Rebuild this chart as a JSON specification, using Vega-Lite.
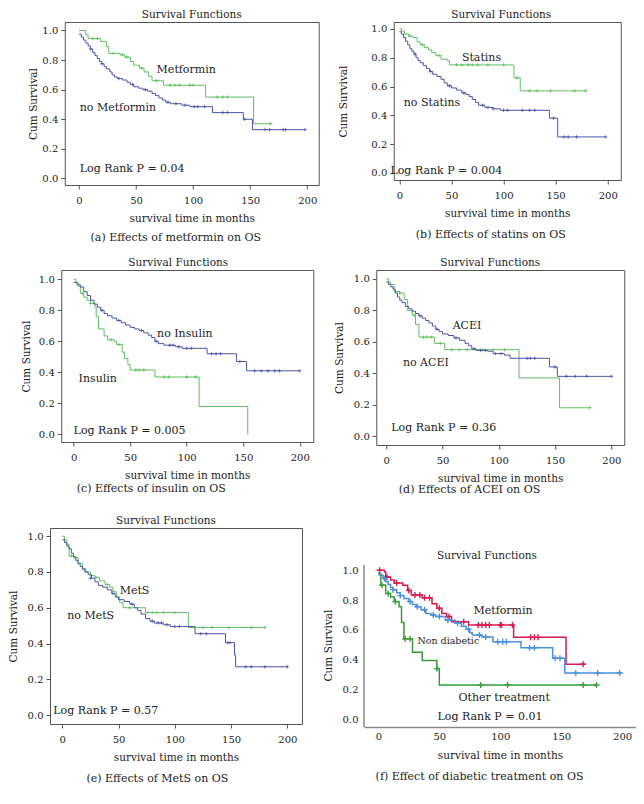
{
"$schema": "https://vega.github.io/schema/vega-lite/v6.json",
"padding": {"top": 9, "left": 8, "right": 0, "bottom": 0},
"background": "white",
"config": {
  "font": "DejaVu Serif",
  "view": {"stroke": "#555", "strokeWidth": 1},
  "axis": {"grid": false, "domain": false, "tickColor": "#555", "tickSize": 4, "labelFont": "DejaVu Serif", "labelFontSize": 10, "labelColor": "#222", "labelOverlap": false, "titleFont": "DejaVu Serif", "titleFontSize": 10.5, "titleFontWeight": "normal", "titleColor": "#222"},
  "axisX": {"labelPadding": 6, "titlePadding": 8, "tickCount": 10},
  "axisY": {"labelPadding": 3, "labelOverlap": false, "tickCount": 10},
  "title": {"font": "DejaVu Serif", "fontSize": 10.5, "fontWeight": "normal", "color": "#222", "offset": 2}
},
"datasets": {
"curves": [
{"panel":"a","group":"Metformin","t":0,"s":1.0},{"panel":"a","group":"Metformin","t":6,"s":0.97},{"panel":"a","group":"Metformin","t":8,"s":0.945},{"panel":"a","group":"Metformin","t":19,"s":0.925},{"panel":"a","group":"Metformin","t":24,"s":0.89},{"panel":"a","group":"Metformin","t":26,"s":0.845},{"panel":"a","group":"Metformin","t":36,"s":0.835},{"panel":"a","group":"Metformin","t":40,"s":0.82},{"panel":"a","group":"Metformin","t":45,"s":0.79},{"panel":"a","group":"Metformin","t":48,"s":0.765},{"panel":"a","group":"Metformin","t":53,"s":0.745},{"panel":"a","group":"Metformin","t":57,"s":0.72},{"panel":"a","group":"Metformin","t":61,"s":0.69},{"panel":"a","group":"Metformin","t":64,"s":0.66},{"panel":"a","group":"Metformin","t":74,"s":0.63},{"panel":"a","group":"Metformin","t":111,"s":0.55},{"panel":"a","group":"Metformin","t":153,"s":0.37},{"panel":"a","group":"Metformin","t":168,"s":0.37},
{"panel":"a","group":"no Metformin","t":0,"s":0.975},{"panel":"a","group":"no Metformin","t":2,"s":0.955},{"panel":"a","group":"no Metformin","t":4,"s":0.935},{"panel":"a","group":"no Metformin","t":6,"s":0.915},{"panel":"a","group":"no Metformin","t":8,"s":0.895},{"panel":"a","group":"no Metformin","t":10,"s":0.875},{"panel":"a","group":"no Metformin","t":12,"s":0.85},{"panel":"a","group":"no Metformin","t":14,"s":0.83},{"panel":"a","group":"no Metformin","t":16,"s":0.81},{"panel":"a","group":"no Metformin","t":18,"s":0.79},{"panel":"a","group":"no Metformin","t":20,"s":0.775},{"panel":"a","group":"no Metformin","t":22,"s":0.755},{"panel":"a","group":"no Metformin","t":24,"s":0.74},{"panel":"a","group":"no Metformin","t":27,"s":0.72},{"panel":"a","group":"no Metformin","t":29,"s":0.7},{"panel":"a","group":"no Metformin","t":31,"s":0.685},{"panel":"a","group":"no Metformin","t":34,"s":0.675},{"panel":"a","group":"no Metformin","t":38,"s":0.665},{"panel":"a","group":"no Metformin","t":42,"s":0.65},{"panel":"a","group":"no Metformin","t":45,"s":0.635},{"panel":"a","group":"no Metformin","t":48,"s":0.62},{"panel":"a","group":"no Metformin","t":52,"s":0.61},{"panel":"a","group":"no Metformin","t":56,"s":0.6},{"panel":"a","group":"no Metformin","t":60,"s":0.59},{"panel":"a","group":"no Metformin","t":64,"s":0.575},{"panel":"a","group":"no Metformin","t":67,"s":0.56},{"panel":"a","group":"no Metformin","t":70,"s":0.545},{"panel":"a","group":"no Metformin","t":73,"s":0.53},{"panel":"a","group":"no Metformin","t":76,"s":0.515},{"panel":"a","group":"no Metformin","t":80,"s":0.505},{"panel":"a","group":"no Metformin","t":90,"s":0.495},{"panel":"a","group":"no Metformin","t":97,"s":0.485},{"panel":"a","group":"no Metformin","t":117,"s":0.445},{"panel":"a","group":"no Metformin","t":144,"s":0.4},{"panel":"a","group":"no Metformin","t":152,"s":0.33},{"panel":"a","group":"no Metformin","t":198,"s":0.33},
{"panel":"b","group":"Statins","t":0,"s":1.0},{"panel":"b","group":"Statins","t":2,"s":0.985},{"panel":"b","group":"Statins","t":5,"s":0.965},{"panel":"b","group":"Statins","t":9,"s":0.95},{"panel":"b","group":"Statins","t":13,"s":0.94},{"panel":"b","group":"Statins","t":17,"s":0.91},{"panel":"b","group":"Statins","t":20,"s":0.89},{"panel":"b","group":"Statins","t":24,"s":0.87},{"panel":"b","group":"Statins","t":28,"s":0.855},{"panel":"b","group":"Statins","t":31,"s":0.835},{"panel":"b","group":"Statins","t":35,"s":0.815},{"panel":"b","group":"Statins","t":40,"s":0.79},{"panel":"b","group":"Statins","t":46,"s":0.78},{"panel":"b","group":"Statins","t":48,"s":0.75},{"panel":"b","group":"Statins","t":110,"s":0.66},{"panel":"b","group":"Statins","t":116,"s":0.57},{"panel":"b","group":"Statins","t":179,"s":0.57},
{"panel":"b","group":"no Statins","t":0,"s":0.98},{"panel":"b","group":"no Statins","t":2,"s":0.965},{"panel":"b","group":"no Statins","t":4,"s":0.94},{"panel":"b","group":"no Statins","t":6,"s":0.915},{"panel":"b","group":"no Statins","t":8,"s":0.89},{"panel":"b","group":"no Statins","t":10,"s":0.865},{"panel":"b","group":"no Statins","t":12,"s":0.845},{"panel":"b","group":"no Statins","t":14,"s":0.825},{"panel":"b","group":"no Statins","t":16,"s":0.8},{"panel":"b","group":"no Statins","t":18,"s":0.78},{"panel":"b","group":"no Statins","t":20,"s":0.765},{"panel":"b","group":"no Statins","t":23,"s":0.745},{"panel":"b","group":"no Statins","t":26,"s":0.725},{"panel":"b","group":"no Statins","t":29,"s":0.705},{"panel":"b","group":"no Statins","t":32,"s":0.685},{"panel":"b","group":"no Statins","t":36,"s":0.67},{"panel":"b","group":"no Statins","t":40,"s":0.65},{"panel":"b","group":"no Statins","t":43,"s":0.625},{"panel":"b","group":"no Statins","t":46,"s":0.605},{"panel":"b","group":"no Statins","t":50,"s":0.59},{"panel":"b","group":"no Statins","t":55,"s":0.575},{"panel":"b","group":"no Statins","t":60,"s":0.555},{"panel":"b","group":"no Statins","t":64,"s":0.545},{"panel":"b","group":"no Statins","t":67,"s":0.53},{"panel":"b","group":"no Statins","t":70,"s":0.51},{"panel":"b","group":"no Statins","t":73,"s":0.49},{"panel":"b","group":"no Statins","t":76,"s":0.47},{"panel":"b","group":"no Statins","t":82,"s":0.455},{"panel":"b","group":"no Statins","t":90,"s":0.445},{"panel":"b","group":"no Statins","t":97,"s":0.435},{"panel":"b","group":"no Statins","t":144,"s":0.38},{"panel":"b","group":"no Statins","t":152,"s":0.25},{"panel":"b","group":"no Statins","t":198,"s":0.25},
{"panel":"c","group":"Insulin","t":0,"s":1.0},{"panel":"c","group":"Insulin","t":2,"s":0.98},{"panel":"c","group":"Insulin","t":4,"s":0.955},{"panel":"c","group":"Insulin","t":6,"s":0.91},{"panel":"c","group":"Insulin","t":9,"s":0.885},{"panel":"c","group":"Insulin","t":12,"s":0.865},{"panel":"c","group":"Insulin","t":15,"s":0.845},{"panel":"c","group":"Insulin","t":19,"s":0.82},{"panel":"c","group":"Insulin","t":20,"s":0.76},{"panel":"c","group":"Insulin","t":22,"s":0.68},{"panel":"c","group":"Insulin","t":27,"s":0.635},{"panel":"c","group":"Insulin","t":30,"s":0.61},{"panel":"c","group":"Insulin","t":36,"s":0.6},{"panel":"c","group":"Insulin","t":38,"s":0.58},{"panel":"c","group":"Insulin","t":43,"s":0.53},{"panel":"c","group":"Insulin","t":45,"s":0.49},{"panel":"c","group":"Insulin","t":48,"s":0.45},{"panel":"c","group":"Insulin","t":50,"s":0.415},{"panel":"c","group":"Insulin","t":72,"s":0.37},{"panel":"c","group":"Insulin","t":111,"s":0.18},{"panel":"c","group":"Insulin","t":154,"s":0.0},
{"panel":"c","group":"no Insulin","t":0,"s":0.98},{"panel":"c","group":"no Insulin","t":3,"s":0.965},{"panel":"c","group":"no Insulin","t":6,"s":0.95},{"panel":"c","group":"no Insulin","t":9,"s":0.92},{"panel":"c","group":"no Insulin","t":12,"s":0.895},{"panel":"c","group":"no Insulin","t":15,"s":0.865},{"panel":"c","group":"no Insulin","t":18,"s":0.84},{"panel":"c","group":"no Insulin","t":21,"s":0.82},{"panel":"c","group":"no Insulin","t":24,"s":0.8},{"panel":"c","group":"no Insulin","t":27,"s":0.78},{"panel":"c","group":"no Insulin","t":30,"s":0.765},{"panel":"c","group":"no Insulin","t":34,"s":0.75},{"panel":"c","group":"no Insulin","t":38,"s":0.735},{"panel":"c","group":"no Insulin","t":42,"s":0.72},{"panel":"c","group":"no Insulin","t":46,"s":0.705},{"panel":"c","group":"no Insulin","t":50,"s":0.69},{"panel":"c","group":"no Insulin","t":54,"s":0.68},{"panel":"c","group":"no Insulin","t":58,"s":0.67},{"panel":"c","group":"no Insulin","t":62,"s":0.655},{"panel":"c","group":"no Insulin","t":66,"s":0.64},{"panel":"c","group":"no Insulin","t":69,"s":0.625},{"panel":"c","group":"no Insulin","t":72,"s":0.6},{"panel":"c","group":"no Insulin","t":75,"s":0.585},{"panel":"c","group":"no Insulin","t":80,"s":0.575},{"panel":"c","group":"no Insulin","t":90,"s":0.565},{"panel":"c","group":"no Insulin","t":96,"s":0.555},{"panel":"c","group":"no Insulin","t":118,"s":0.52},{"panel":"c","group":"no Insulin","t":144,"s":0.47},{"panel":"c","group":"no Insulin","t":153,"s":0.41},{"panel":"c","group":"no Insulin","t":200,"s":0.41},
{"panel":"d","group":"no ACEI","t":0,"s":1.0},{"panel":"d","group":"no ACEI","t":2,"s":0.98},{"panel":"d","group":"no ACEI","t":4,"s":0.965},{"panel":"d","group":"no ACEI","t":7,"s":0.92},{"panel":"d","group":"no ACEI","t":12,"s":0.91},{"panel":"d","group":"no ACEI","t":16,"s":0.87},{"panel":"d","group":"no ACEI","t":19,"s":0.8},{"panel":"d","group":"no ACEI","t":23,"s":0.77},{"panel":"d","group":"no ACEI","t":26,"s":0.71},{"panel":"d","group":"no ACEI","t":29,"s":0.63},{"panel":"d","group":"no ACEI","t":43,"s":0.59},{"panel":"d","group":"no ACEI","t":52,"s":0.55},{"panel":"d","group":"no ACEI","t":118,"s":0.37},{"panel":"d","group":"no ACEI","t":154,"s":0.18},{"panel":"d","group":"no ACEI","t":181,"s":0.18},
{"panel":"d","group":"ACEI","t":0,"s":0.98},{"panel":"d","group":"ACEI","t":2,"s":0.965},{"panel":"d","group":"ACEI","t":4,"s":0.95},{"panel":"d","group":"ACEI","t":6,"s":0.935},{"panel":"d","group":"ACEI","t":8,"s":0.91},{"panel":"d","group":"ACEI","t":10,"s":0.885},{"panel":"d","group":"ACEI","t":12,"s":0.865},{"panel":"d","group":"ACEI","t":14,"s":0.85},{"panel":"d","group":"ACEI","t":17,"s":0.825},{"panel":"d","group":"ACEI","t":20,"s":0.81},{"panel":"d","group":"ACEI","t":23,"s":0.795},{"panel":"d","group":"ACEI","t":26,"s":0.78},{"panel":"d","group":"ACEI","t":29,"s":0.765},{"panel":"d","group":"ACEI","t":32,"s":0.75},{"panel":"d","group":"ACEI","t":35,"s":0.735},{"panel":"d","group":"ACEI","t":38,"s":0.72},{"panel":"d","group":"ACEI","t":41,"s":0.7},{"panel":"d","group":"ACEI","t":44,"s":0.68},{"panel":"d","group":"ACEI","t":47,"s":0.665},{"panel":"d","group":"ACEI","t":50,"s":0.65},{"panel":"d","group":"ACEI","t":55,"s":0.64},{"panel":"d","group":"ACEI","t":60,"s":0.625},{"panel":"d","group":"ACEI","t":65,"s":0.61},{"panel":"d","group":"ACEI","t":70,"s":0.59},{"panel":"d","group":"ACEI","t":73,"s":0.575},{"panel":"d","group":"ACEI","t":76,"s":0.555},{"panel":"d","group":"ACEI","t":80,"s":0.545},{"panel":"d","group":"ACEI","t":90,"s":0.54},{"panel":"d","group":"ACEI","t":95,"s":0.525},{"panel":"d","group":"ACEI","t":105,"s":0.515},{"panel":"d","group":"ACEI","t":110,"s":0.495},{"panel":"d","group":"ACEI","t":145,"s":0.44},{"panel":"d","group":"ACEI","t":152,"s":0.38},{"panel":"d","group":"ACEI","t":200,"s":0.38},
{"panel":"e","group":"MetS","t":0,"s":1.0},{"panel":"e","group":"MetS","t":2,"s":0.98},{"panel":"e","group":"MetS","t":4,"s":0.955},{"panel":"e","group":"MetS","t":6,"s":0.89},{"panel":"e","group":"MetS","t":10,"s":0.88},{"panel":"e","group":"MetS","t":14,"s":0.85},{"panel":"e","group":"MetS","t":18,"s":0.82},{"panel":"e","group":"MetS","t":21,"s":0.8},{"panel":"e","group":"MetS","t":25,"s":0.78},{"panel":"e","group":"MetS","t":29,"s":0.77},{"panel":"e","group":"MetS","t":33,"s":0.75},{"panel":"e","group":"MetS","t":38,"s":0.73},{"panel":"e","group":"MetS","t":42,"s":0.715},{"panel":"e","group":"MetS","t":45,"s":0.69},{"panel":"e","group":"MetS","t":48,"s":0.66},{"panel":"e","group":"MetS","t":51,"s":0.63},{"panel":"e","group":"MetS","t":54,"s":0.6},{"panel":"e","group":"MetS","t":74,"s":0.573},{"panel":"e","group":"MetS","t":112,"s":0.49},{"panel":"e","group":"MetS","t":180,"s":0.49},
{"panel":"e","group":"no MetS","t":0,"s":0.98},{"panel":"e","group":"no MetS","t":2,"s":0.965},{"panel":"e","group":"no MetS","t":4,"s":0.945},{"panel":"e","group":"no MetS","t":6,"s":0.93},{"panel":"e","group":"no MetS","t":8,"s":0.905},{"panel":"e","group":"no MetS","t":10,"s":0.885},{"panel":"e","group":"no MetS","t":12,"s":0.865},{"panel":"e","group":"no MetS","t":14,"s":0.845},{"panel":"e","group":"no MetS","t":16,"s":0.83},{"panel":"e","group":"no MetS","t":18,"s":0.815},{"panel":"e","group":"no MetS","t":20,"s":0.8},{"panel":"e","group":"no MetS","t":23,"s":0.785},{"panel":"e","group":"no MetS","t":26,"s":0.765},{"panel":"e","group":"no MetS","t":29,"s":0.745},{"panel":"e","group":"no MetS","t":32,"s":0.725},{"panel":"e","group":"no MetS","t":36,"s":0.715},{"panel":"e","group":"no MetS","t":40,"s":0.7},{"panel":"e","group":"no MetS","t":44,"s":0.68},{"panel":"e","group":"no MetS","t":47,"s":0.66},{"panel":"e","group":"no MetS","t":50,"s":0.645},{"panel":"e","group":"no MetS","t":55,"s":0.635},{"panel":"e","group":"no MetS","t":60,"s":0.62},{"panel":"e","group":"no MetS","t":64,"s":0.6},{"panel":"e","group":"no MetS","t":67,"s":0.585},{"panel":"e","group":"no MetS","t":70,"s":0.565},{"panel":"e","group":"no MetS","t":74,"s":0.54},{"panel":"e","group":"no MetS","t":78,"s":0.525},{"panel":"e","group":"no MetS","t":82,"s":0.515},{"panel":"e","group":"no MetS","t":90,"s":0.505},{"panel":"e","group":"no MetS","t":96,"s":0.495},{"panel":"e","group":"no MetS","t":118,"s":0.455},{"panel":"e","group":"no MetS","t":145,"s":0.405},{"panel":"e","group":"no MetS","t":153,"s":0.335},{"panel":"e","group":"no MetS","t":154,"s":0.27},{"panel":"e","group":"no MetS","t":200,"s":0.27},
{"panel":"f","group":"Metformin","t":0,"s":1.0},{"panel":"f","group":"Metformin","t":5,"s":0.99},{"panel":"f","group":"Metformin","t":6,"s":0.955},{"panel":"f","group":"Metformin","t":10,"s":0.935},{"panel":"f","group":"Metformin","t":13,"s":0.915},{"panel":"f","group":"Metformin","t":20,"s":0.9},{"panel":"f","group":"Metformin","t":24,"s":0.865},{"panel":"f","group":"Metformin","t":27,"s":0.835},{"panel":"f","group":"Metformin","t":36,"s":0.815},{"panel":"f","group":"Metformin","t":44,"s":0.775},{"panel":"f","group":"Metformin","t":48,"s":0.745},{"panel":"f","group":"Metformin","t":52,"s":0.71},{"panel":"f","group":"Metformin","t":56,"s":0.69},{"panel":"f","group":"Metformin","t":60,"s":0.655},{"panel":"f","group":"Metformin","t":74,"s":0.632},{"panel":"f","group":"Metformin","t":111,"s":0.55},{"panel":"f","group":"Metformin","t":154,"s":0.37},{"panel":"f","group":"Metformin","t":170,"s":0.37},
{"panel":"f","group":"Non diabetic","t":0,"s":0.98},{"panel":"f","group":"Non diabetic","t":2,"s":0.965},{"panel":"f","group":"Non diabetic","t":4,"s":0.945},{"panel":"f","group":"Non diabetic","t":6,"s":0.925},{"panel":"f","group":"Non diabetic","t":8,"s":0.905},{"panel":"f","group":"Non diabetic","t":10,"s":0.885},{"panel":"f","group":"Non diabetic","t":12,"s":0.87},{"panel":"f","group":"Non diabetic","t":15,"s":0.85},{"panel":"f","group":"Non diabetic","t":18,"s":0.83},{"panel":"f","group":"Non diabetic","t":21,"s":0.81},{"panel":"f","group":"Non diabetic","t":25,"s":0.79},{"panel":"f","group":"Non diabetic","t":28,"s":0.77},{"panel":"f","group":"Non diabetic","t":31,"s":0.755},{"panel":"f","group":"Non diabetic","t":35,"s":0.735},{"panel":"f","group":"Non diabetic","t":39,"s":0.71},{"panel":"f","group":"Non diabetic","t":43,"s":0.7},{"panel":"f","group":"Non diabetic","t":47,"s":0.69},{"panel":"f","group":"Non diabetic","t":55,"s":0.665},{"panel":"f","group":"Non diabetic","t":63,"s":0.645},{"panel":"f","group":"Non diabetic","t":68,"s":0.625},{"panel":"f","group":"Non diabetic","t":72,"s":0.605},{"panel":"f","group":"Non diabetic","t":75,"s":0.58},{"panel":"f","group":"Non diabetic","t":77,"s":0.565},{"panel":"f","group":"Non diabetic","t":85,"s":0.553},{"panel":"f","group":"Non diabetic","t":94,"s":0.52},{"panel":"f","group":"Non diabetic","t":117,"s":0.48},{"panel":"f","group":"Non diabetic","t":143,"s":0.41},{"panel":"f","group":"Non diabetic","t":153,"s":0.31},{"panel":"f","group":"Non diabetic","t":200,"s":0.31},
{"panel":"f","group":"Other treatment","t":0,"s":0.97},{"panel":"f","group":"Other treatment","t":2,"s":0.9},{"panel":"f","group":"Other treatment","t":6,"s":0.845},{"panel":"f","group":"Other treatment","t":10,"s":0.82},{"panel":"f","group":"Other treatment","t":13,"s":0.79},{"panel":"f","group":"Other treatment","t":17,"s":0.755},{"panel":"f","group":"Other treatment","t":19,"s":0.65},{"panel":"f","group":"Other treatment","t":21,"s":0.54},{"panel":"f","group":"Other treatment","t":28,"s":0.45},{"panel":"f","group":"Other treatment","t":36,"s":0.395},{"panel":"f","group":"Other treatment","t":48,"s":0.34},{"panel":"f","group":"Other treatment","t":50,"s":0.23},{"panel":"f","group":"Other treatment","t":179,"s":0.23}
],
"censors": [
{"panel":"a","group":"Metformin","t":12,"s":0.945},{"panel":"a","group":"Metformin","t":16,"s":0.945},{"panel":"a","group":"Metformin","t":30,"s":0.845},{"panel":"a","group":"Metformin","t":38,"s":0.835},{"panel":"a","group":"Metformin","t":42,"s":0.82},{"panel":"a","group":"Metformin","t":55,"s":0.745},{"panel":"a","group":"Metformin","t":68,"s":0.66},{"panel":"a","group":"Metformin","t":80,"s":0.63},{"panel":"a","group":"Metformin","t":84,"s":0.63},{"panel":"a","group":"Metformin","t":88,"s":0.63},{"panel":"a","group":"Metformin","t":97,"s":0.63},{"panel":"a","group":"Metformin","t":100,"s":0.63},{"panel":"a","group":"Metformin","t":121,"s":0.55},{"panel":"a","group":"Metformin","t":126,"s":0.55},{"panel":"a","group":"Metformin","t":130,"s":0.55},{"panel":"a","group":"Metformin","t":168,"s":0.37},
{"panel":"a","group":"no Metformin","t":10,"s":0.875},{"panel":"a","group":"no Metformin","t":20,"s":0.775},{"panel":"a","group":"no Metformin","t":35,"s":0.675},{"panel":"a","group":"no Metformin","t":47,"s":0.635},{"panel":"a","group":"no Metformin","t":58,"s":0.6},{"panel":"a","group":"no Metformin","t":78,"s":0.515},{"panel":"a","group":"no Metformin","t":85,"s":0.505},{"panel":"a","group":"no Metformin","t":93,"s":0.495},{"panel":"a","group":"no Metformin","t":101,"s":0.485},{"panel":"a","group":"no Metformin","t":104,"s":0.485},{"panel":"a","group":"no Metformin","t":110,"s":0.485},{"panel":"a","group":"no Metformin","t":126,"s":0.445},{"panel":"a","group":"no Metformin","t":130,"s":0.445},{"panel":"a","group":"no Metformin","t":145,"s":0.4},{"panel":"a","group":"no Metformin","t":163,"s":0.33},{"panel":"a","group":"no Metformin","t":167,"s":0.33},{"panel":"a","group":"no Metformin","t":179,"s":0.33},{"panel":"a","group":"no Metformin","t":181,"s":0.33},{"panel":"a","group":"no Metformin","t":198,"s":0.33},
{"panel":"b","group":"Statins","t":10,"s":0.95},{"panel":"b","group":"Statins","t":22,"s":0.89},{"panel":"b","group":"Statins","t":38,"s":0.815},{"panel":"b","group":"Statins","t":55,"s":0.75},{"panel":"b","group":"Statins","t":60,"s":0.75},{"panel":"b","group":"Statins","t":66,"s":0.75},{"panel":"b","group":"Statins","t":70,"s":0.75},{"panel":"b","group":"Statins","t":75,"s":0.75},{"panel":"b","group":"Statins","t":85,"s":0.75},{"panel":"b","group":"Statins","t":100,"s":0.75},{"panel":"b","group":"Statins","t":113,"s":0.66},{"panel":"b","group":"Statins","t":125,"s":0.57},{"panel":"b","group":"Statins","t":132,"s":0.57},{"panel":"b","group":"Statins","t":145,"s":0.57},{"panel":"b","group":"Statins","t":168,"s":0.57},{"panel":"b","group":"Statins","t":179,"s":0.57},
{"panel":"b","group":"no Statins","t":15,"s":0.825},{"panel":"b","group":"no Statins","t":30,"s":0.705},{"panel":"b","group":"no Statins","t":48,"s":0.605},{"panel":"b","group":"no Statins","t":62,"s":0.555},{"panel":"b","group":"no Statins","t":80,"s":0.47},{"panel":"b","group":"no Statins","t":85,"s":0.455},{"panel":"b","group":"no Statins","t":90,"s":0.445},{"panel":"b","group":"no Statins","t":100,"s":0.435},{"panel":"b","group":"no Statins","t":104,"s":0.435},{"panel":"b","group":"no Statins","t":118,"s":0.435},{"panel":"b","group":"no Statins","t":125,"s":0.435},{"panel":"b","group":"no Statins","t":130,"s":0.435},{"panel":"b","group":"no Statins","t":148,"s":0.38},{"panel":"b","group":"no Statins","t":158,"s":0.25},{"panel":"b","group":"no Statins","t":162,"s":0.25},{"panel":"b","group":"no Statins","t":170,"s":0.25},{"panel":"b","group":"no Statins","t":198,"s":0.25},
{"panel":"c","group":"Insulin","t":8,"s":0.91},{"panel":"c","group":"Insulin","t":15,"s":0.845},{"panel":"c","group":"Insulin","t":33,"s":0.61},{"panel":"c","group":"Insulin","t":40,"s":0.58},{"panel":"c","group":"Insulin","t":55,"s":0.415},{"panel":"c","group":"Insulin","t":58,"s":0.415},{"panel":"c","group":"Insulin","t":62,"s":0.415},{"panel":"c","group":"Insulin","t":80,"s":0.37},{"panel":"c","group":"Insulin","t":84,"s":0.37},{"panel":"c","group":"Insulin","t":100,"s":0.37},{"panel":"c","group":"Insulin","t":108,"s":0.37},
{"panel":"c","group":"no Insulin","t":25,"s":0.8},{"panel":"c","group":"no Insulin","t":40,"s":0.735},{"panel":"c","group":"no Insulin","t":60,"s":0.67},{"panel":"c","group":"no Insulin","t":73,"s":0.6},{"panel":"c","group":"no Insulin","t":85,"s":0.575},{"panel":"c","group":"no Insulin","t":88,"s":0.575},{"panel":"c","group":"no Insulin","t":93,"s":0.565},{"panel":"c","group":"no Insulin","t":100,"s":0.555},{"panel":"c","group":"no Insulin","t":104,"s":0.555},{"panel":"c","group":"no Insulin","t":122,"s":0.52},{"panel":"c","group":"no Insulin","t":126,"s":0.52},{"panel":"c","group":"no Insulin","t":130,"s":0.52},{"panel":"c","group":"no Insulin","t":147,"s":0.47},{"panel":"c","group":"no Insulin","t":160,"s":0.41},{"panel":"c","group":"no Insulin","t":166,"s":0.41},{"panel":"c","group":"no Insulin","t":172,"s":0.41},{"panel":"c","group":"no Insulin","t":178,"s":0.41},{"panel":"c","group":"no Insulin","t":182,"s":0.41},{"panel":"c","group":"no Insulin","t":200,"s":0.41},
{"panel":"d","group":"no ACEI","t":12,"s":0.91},{"panel":"d","group":"no ACEI","t":25,"s":0.77},{"panel":"d","group":"no ACEI","t":33,"s":0.63},{"panel":"d","group":"no ACEI","t":36,"s":0.63},{"panel":"d","group":"no ACEI","t":40,"s":0.63},{"panel":"d","group":"no ACEI","t":48,"s":0.59},{"panel":"d","group":"no ACEI","t":58,"s":0.55},{"panel":"d","group":"no ACEI","t":65,"s":0.55},{"panel":"d","group":"no ACEI","t":72,"s":0.55},{"panel":"d","group":"no ACEI","t":85,"s":0.55},{"panel":"d","group":"no ACEI","t":95,"s":0.55},{"panel":"d","group":"no ACEI","t":105,"s":0.55},{"panel":"d","group":"no ACEI","t":181,"s":0.18},
{"panel":"d","group":"ACEI","t":30,"s":0.765},{"panel":"d","group":"ACEI","t":45,"s":0.68},{"panel":"d","group":"ACEI","t":62,"s":0.625},{"panel":"d","group":"ACEI","t":78,"s":0.555},{"panel":"d","group":"ACEI","t":84,"s":0.545},{"panel":"d","group":"ACEI","t":88,"s":0.545},{"panel":"d","group":"ACEI","t":97,"s":0.525},{"panel":"d","group":"ACEI","t":102,"s":0.525},{"panel":"d","group":"ACEI","t":125,"s":0.495},{"panel":"d","group":"ACEI","t":128,"s":0.495},{"panel":"d","group":"ACEI","t":132,"s":0.495},{"panel":"d","group":"ACEI","t":150,"s":0.44},{"panel":"d","group":"ACEI","t":160,"s":0.38},{"panel":"d","group":"ACEI","t":168,"s":0.38},{"panel":"d","group":"ACEI","t":178,"s":0.38},{"panel":"d","group":"ACEI","t":200,"s":0.38},
{"panel":"e","group":"MetS","t":8,"s":0.89},{"panel":"e","group":"MetS","t":30,"s":0.77},{"panel":"e","group":"MetS","t":40,"s":0.73},{"panel":"e","group":"MetS","t":60,"s":0.6},{"panel":"e","group":"MetS","t":76,"s":0.573},{"panel":"e","group":"MetS","t":80,"s":0.573},{"panel":"e","group":"MetS","t":84,"s":0.573},{"panel":"e","group":"MetS","t":90,"s":0.573},{"panel":"e","group":"MetS","t":100,"s":0.573},{"panel":"e","group":"MetS","t":118,"s":0.49},{"panel":"e","group":"MetS","t":125,"s":0.49},{"panel":"e","group":"MetS","t":133,"s":0.49},{"panel":"e","group":"MetS","t":148,"s":0.49},{"panel":"e","group":"MetS","t":168,"s":0.49},{"panel":"e","group":"MetS","t":180,"s":0.49},
{"panel":"e","group":"no MetS","t":25,"s":0.765},{"panel":"e","group":"no MetS","t":45,"s":0.68},{"panel":"e","group":"no MetS","t":62,"s":0.62},{"panel":"e","group":"no MetS","t":80,"s":0.525},{"panel":"e","group":"no MetS","t":85,"s":0.515},{"panel":"e","group":"no MetS","t":88,"s":0.515},{"panel":"e","group":"no MetS","t":93,"s":0.505},{"panel":"e","group":"no MetS","t":100,"s":0.495},{"panel":"e","group":"no MetS","t":104,"s":0.495},{"panel":"e","group":"no MetS","t":123,"s":0.455},{"panel":"e","group":"no MetS","t":128,"s":0.455},{"panel":"e","group":"no MetS","t":147,"s":0.405},{"panel":"e","group":"no MetS","t":149,"s":0.405},{"panel":"e","group":"no MetS","t":163,"s":0.27},{"panel":"e","group":"no MetS","t":168,"s":0.27},{"panel":"e","group":"no MetS","t":180,"s":0.27},{"panel":"e","group":"no MetS","t":200,"s":0.27},
{"panel":"f","group":"Metformin","t":1,"s":1.0},{"panel":"f","group":"Metformin","t":7,"s":0.955},{"panel":"f","group":"Metformin","t":15,"s":0.915},{"panel":"f","group":"Metformin","t":25,"s":0.865},{"panel":"f","group":"Metformin","t":30,"s":0.835},{"panel":"f","group":"Metformin","t":34,"s":0.835},{"panel":"f","group":"Metformin","t":38,"s":0.815},{"panel":"f","group":"Metformin","t":42,"s":0.815},{"panel":"f","group":"Metformin","t":50,"s":0.745},{"panel":"f","group":"Metformin","t":58,"s":0.69},{"panel":"f","group":"Metformin","t":70,"s":0.655},{"panel":"f","group":"Metformin","t":82,"s":0.632},{"panel":"f","group":"Metformin","t":85,"s":0.632},{"panel":"f","group":"Metformin","t":88,"s":0.632},{"panel":"f","group":"Metformin","t":91,"s":0.632},{"panel":"f","group":"Metformin","t":100,"s":0.632},{"panel":"f","group":"Metformin","t":101,"s":0.632},{"panel":"f","group":"Metformin","t":110,"s":0.632},{"panel":"f","group":"Metformin","t":125,"s":0.55},{"panel":"f","group":"Metformin","t":128,"s":0.55},{"panel":"f","group":"Metformin","t":131,"s":0.55},{"panel":"f","group":"Metformin","t":168,"s":0.37},
{"panel":"f","group":"Non diabetic","t":5,"s":0.945},{"panel":"f","group":"Non diabetic","t":12,"s":0.87},{"panel":"f","group":"Non diabetic","t":18,"s":0.83},{"panel":"f","group":"Non diabetic","t":26,"s":0.79},{"panel":"f","group":"Non diabetic","t":32,"s":0.755},{"panel":"f","group":"Non diabetic","t":38,"s":0.735},{"panel":"f","group":"Non diabetic","t":45,"s":0.7},{"panel":"f","group":"Non diabetic","t":50,"s":0.69},{"panel":"f","group":"Non diabetic","t":57,"s":0.665},{"panel":"f","group":"Non diabetic","t":65,"s":0.645},{"panel":"f","group":"Non diabetic","t":74,"s":0.605},{"panel":"f","group":"Non diabetic","t":83,"s":0.565},{"panel":"f","group":"Non diabetic","t":88,"s":0.553},{"panel":"f","group":"Non diabetic","t":98,"s":0.52},{"panel":"f","group":"Non diabetic","t":102,"s":0.52},{"panel":"f","group":"Non diabetic","t":105,"s":0.52},{"panel":"f","group":"Non diabetic","t":124,"s":0.48},{"panel":"f","group":"Non diabetic","t":128,"s":0.48},{"panel":"f","group":"Non diabetic","t":145,"s":0.41},{"panel":"f","group":"Non diabetic","t":149,"s":0.41},{"panel":"f","group":"Non diabetic","t":162,"s":0.31},{"panel":"f","group":"Non diabetic","t":180,"s":0.31},{"panel":"f","group":"Non diabetic","t":198,"s":0.31},
{"panel":"f","group":"Other treatment","t":3,"s":0.9},{"panel":"f","group":"Other treatment","t":8,"s":0.845},{"panel":"f","group":"Other treatment","t":14,"s":0.79},{"panel":"f","group":"Other treatment","t":22,"s":0.54},{"panel":"f","group":"Other treatment","t":26,"s":0.54},{"panel":"f","group":"Other treatment","t":48,"s":0.34},{"panel":"f","group":"Other treatment","t":84,"s":0.23},{"panel":"f","group":"Other treatment","t":106,"s":0.23},{"panel":"f","group":"Other treatment","t":168,"s":0.23},{"panel":"f","group":"Other treatment","t":179,"s":0.23}
],
"labels": [
{"panel":"a","text":"Metformin","t":68,"s":0.733},{"panel":"a","text":"no Metformin","t":0.6,"s":0.476},{"panel":"a","text":"Log Rank P = 0.04","t":0.6,"s":0.064},
{"panel":"b","text":"Statins","t":60,"s":0.8},{"panel":"b","text":"no Statins","t":4.2,"s":0.485},{"panel":"b","text":"Log Rank P = 0.004","t":-8.6,"s":0.014},
{"panel":"c","text":"no Insulin","t":73.8,"s":0.65},{"panel":"c","text":"Insulin","t":4.4,"s":0.36},{"panel":"c","text":"Log Rank P = 0.005","t":0,"s":0.022},
{"panel":"d","text":"ACEI","t":59,"s":0.7},{"panel":"d","text":"no ACEI","t":14.8,"s":0.463},{"panel":"d","text":"Log Rank P = 0.36","t":4.4,"s":0.05},
{"panel":"e","text":"MetS","t":51,"s":0.696},{"panel":"e","text":"no MetS","t":4.4,"s":0.552},{"panel":"e","text":"Log Rank P = 0.57","t":-8,"s":0.025},
{"panel":"f","text":"Metformin","t":78,"s":0.725},{"panel":"f","text":"Other treatment","t":65.7,"s":0.145},{"panel":"f","text":"Log Rank P = 0.01","t":48.5,"s":0.015}
],
"smalllabels": [
{"panel":"f","text":"Non diabetic","t":32,"s":0.525}
],
"faxis": [
{"t":-11.8,"s":-0.052,"s2":1.036}
]
},
"center": true,
"spacing": 14,
"resolve": {"scale": {"color": "independent", "x": "independent", "y": "independent"}},
"vconcat": [
{
"hconcat": [
{
"title": {"text": "(a)  Effects of metformin on OS", "orient": "bottom", "frame": "bounds", "anchor": "middle", "offset": 8, "dx": 2, "fontSize": 11},
"vconcat": [{
"width": 254, "height": 163,
"title": {"text": "Survival Functions", "frame": "group", "anchor": "middle"},
"layer": [
{"data": {"name": "curves"}, "transform": [{"filter": "datum.panel === 'a'"}],
 "mark": {"type": "line", "interpolate": "step-after", "strokeWidth": 1},
 "encoding": {
  "x": {"field": "t", "type": "quantitative", "scale": {"domain": [-12.5, 210.1], "nice": false, "zero": false}, "axis": {"values": [0, 50, 100, 150, 200], "title": "survival time in months"}},
  "y": {"field": "s", "type": "quantitative", "scale": {"domain": [-0.044, 1.057], "nice": false, "zero": false}, "axis": {"values": [0, 0.2, 0.4, 0.6, 0.8, 1], "tickCount": 10, "format": ".1f", "title": "Cum Survival", "titlePadding": 3, "labelOverlap": false}},
  "color": {"field": "group", "type": "nominal", "scale": {"domain": ["Metformin", "no Metformin"], "range": ["#5fbf5f", "#4b55a8"]}, "legend": null}}},
{"data": {"name": "censors"}, "transform": [{"filter": "datum.panel === 'a'"}],
 "mark": {"type": "point", "shape": "M0,-1L0,1M-1,0L1,0", "filled": false, "size": 12, "strokeWidth": 0.8, "opacity": 1},
 "encoding": {"x": {"field": "t", "type": "quantitative"}, "y": {"field": "s", "type": "quantitative"}, "color": {"field": "group", "type": "nominal", "legend": null}}},
{"data": {"name": "labels"}, "transform": [{"filter": "datum.panel === 'a'"}],
 "mark": {"type": "text", "align": "left", "baseline": "middle", "fontSize": 11, "color": "#222"},
 "encoding": {"x": {"field": "t", "type": "quantitative"}, "y": {"field": "s", "type": "quantitative"}, "text": {"field": "text"}}}
]}]
},
{
"title": {"text": "(b)  Effects of statins on OS", "orient": "bottom", "frame": "bounds", "anchor": "middle", "offset": 10, "dx": 11, "fontSize": 11},
"vconcat": [{
"width": 227, "height": 158,
"title": {"text": "Survival Functions", "frame": "group", "anchor": "middle", "dx": -6},
"layer": [
{"data": {"name": "curves"}, "transform": [{"filter": "datum.panel === 'b'"}],
 "mark": {"type": "line", "interpolate": "step-after", "strokeWidth": 1},
 "encoding": {
  "x": {"field": "t", "type": "quantitative", "scale": {"domain": [-5.4, 212.5], "nice": false, "zero": false}, "axis": {"values": [0, 50, 100, 150, 200], "title": "survival time in months"}},
  "y": {"field": "s", "type": "quantitative", "scale": {"domain": [-0.049, 1.048], "nice": false, "zero": false}, "axis": {"values": [0, 0.2, 0.4, 0.6, 0.8, 1], "tickCount": 10, "format": ".1f", "title": "Cum Survival", "titlePadding": 22, "labelOverlap": false}},
  "color": {"field": "group", "type": "nominal", "scale": {"domain": ["Statins", "no Statins"], "range": ["#5fbf5f", "#4b55a8"]}, "legend": null}}},
{"data": {"name": "censors"}, "transform": [{"filter": "datum.panel === 'b'"}],
 "mark": {"type": "point", "shape": "M0,-1L0,1M-1,0L1,0", "filled": false, "size": 12, "strokeWidth": 0.8, "opacity": 1},
 "encoding": {"x": {"field": "t", "type": "quantitative"}, "y": {"field": "s", "type": "quantitative"}, "color": {"field": "group", "type": "nominal", "legend": null}}},
{"data": {"name": "labels"}, "transform": [{"filter": "datum.panel === 'b'"}],
 "mark": {"type": "text", "align": "left", "baseline": "middle", "fontSize": 11, "color": "#222"},
 "encoding": {"x": {"field": "t", "type": "quantitative"}, "y": {"field": "s", "type": "quantitative"}, "text": {"field": "text"}}}
]}]
}
],
"spacing": 18,
"resolve": {"scale": {"color": "independent", "x": "independent", "y": "independent"}}
},
{
"hconcat": [
{
"title": {"text": "(c)  Effects of insulin on OS", "orient": "bottom", "frame": "bounds", "anchor": "middle", "offset": 2, "dx": -16, "fontSize": 11},
"vconcat": [{
"width": 252, "height": 172,
"title": {"text": "Survival Functions", "frame": "group", "anchor": "middle", "dx": -9},
"layer": [
{"data": {"name": "curves"}, "transform": [{"filter": "datum.panel === 'c'"}],
 "mark": {"type": "line", "interpolate": "step-after", "strokeWidth": 1},
 "encoding": {
  "x": {"field": "t", "type": "quantitative", "scale": {"domain": [-10.9, 211.9], "nice": false, "zero": false}, "axis": {"values": [0, 50, 100, 150, 200], "title": "survival time in months"}},
  "y": {"field": "s", "type": "quantitative", "scale": {"domain": [-0.049, 1.06], "nice": false, "zero": false}, "axis": {"values": [0, 0.2, 0.4, 0.6, 0.8, 1], "tickCount": 10, "format": ".1f", "title": "Cum Survival", "titlePadding": 7, "labelOverlap": false}},
  "color": {"field": "group", "type": "nominal", "scale": {"domain": ["Insulin", "no Insulin"], "range": ["#5fbf5f", "#4b55a8"]}, "legend": null}}},
{"data": {"name": "censors"}, "transform": [{"filter": "datum.panel === 'c'"}],
 "mark": {"type": "point", "shape": "M0,-1L0,1M-1,0L1,0", "filled": false, "size": 12, "strokeWidth": 0.8, "opacity": 1},
 "encoding": {"x": {"field": "t", "type": "quantitative"}, "y": {"field": "s", "type": "quantitative"}, "color": {"field": "group", "type": "nominal", "legend": null}}},
{"data": {"name": "labels"}, "transform": [{"filter": "datum.panel === 'c'"}],
 "mark": {"type": "text", "align": "left", "baseline": "middle", "fontSize": 11, "color": "#222"},
 "encoding": {"x": {"field": "t", "type": "quantitative"}, "y": {"field": "s", "type": "quantitative"}, "text": {"field": "text"}}}
]}]
},
{
"title": {"text": "(d)  Effects of ACEI on OS", "orient": "bottom", "frame": "bounds", "anchor": "middle", "offset": 0, "dx": -10, "fontSize": 11},
"vconcat": [{
"width": 248, "height": 175,
"title": {"text": "Survival Functions", "frame": "group", "anchor": "middle", "dx": -10},
"layer": [
{"data": {"name": "curves"}, "transform": [{"filter": "datum.panel === 'd'"}],
 "mark": {"type": "line", "interpolate": "step-after", "strokeWidth": 1},
 "encoding": {
  "x": {"field": "t", "type": "quantitative", "scale": {"domain": [-8.9, 211.5], "nice": false, "zero": false}, "axis": {"values": [0, 50, 100, 150, 200], "title": "survival time in months"}},
  "y": {"field": "s", "type": "quantitative", "scale": {"domain": [-0.057, 1.057], "nice": false, "zero": false}, "axis": {"values": [0, 0.2, 0.4, 0.6, 0.8, 1], "tickCount": 10, "format": ".1f", "title": "Cum Survival", "titlePadding": 8.6, "labelOverlap": false}},
  "color": {"field": "group", "type": "nominal", "scale": {"domain": ["no ACEI", "ACEI"], "range": ["#5fbf5f", "#4b55a8"]}, "legend": null}}},
{"data": {"name": "censors"}, "transform": [{"filter": "datum.panel === 'd'"}],
 "mark": {"type": "point", "shape": "M0,-1L0,1M-1,0L1,0", "filled": false, "size": 12, "strokeWidth": 0.8, "opacity": 1},
 "encoding": {"x": {"field": "t", "type": "quantitative"}, "y": {"field": "s", "type": "quantitative"}, "color": {"field": "group", "type": "nominal", "legend": null}}},
{"data": {"name": "labels"}, "transform": [{"filter": "datum.panel === 'd'"}],
 "mark": {"type": "text", "align": "left", "baseline": "middle", "fontSize": 11, "color": "#222"},
 "encoding": {"x": {"field": "t", "type": "quantitative"}, "y": {"field": "s", "type": "quantitative"}, "text": {"field": "text"}}}
]}]
}
],
"spacing": 19,
"resolve": {"scale": {"color": "independent", "x": "independent", "y": "independent"}}
},
{
"hconcat": [
{
"title": {"text": "(e)  Effects of MetS on OS", "orient": "bottom", "frame": "bounds", "anchor": "middle", "offset": 10, "dx": 2, "fontSize": 11},
"vconcat": [{
"width": 252, "height": 196,
"title": {"text": ["", "Survival Functions"], "lineHeight": 6, "frame": "group", "anchor": "middle", "dx": -10},
"layer": [
{"data": {"name": "curves"}, "transform": [{"filter": "datum.panel === 'e'"}],
 "mark": {"type": "line", "interpolate": "step-after", "strokeWidth": 1},
 "encoding": {
  "x": {"field": "t", "type": "quantitative", "scale": {"domain": [-10.9, 213], "nice": false, "zero": false}, "axis": {"values": [0, 50, 100, 150, 200], "title": "survival time in months"}},
  "y": {"field": "s", "type": "quantitative", "scale": {"domain": [-0.05, 1.046], "nice": false, "zero": false}, "axis": {"values": [0, 0.2, 0.4, 0.6, 0.8, 1], "tickCount": 10, "format": ".1f", "title": "Cum Survival", "titlePadding": 8.3, "labelOverlap": false}},
  "color": {"field": "group", "type": "nominal", "scale": {"domain": ["MetS", "no MetS"], "range": ["#5fbf5f", "#4b55a8"]}, "legend": null}}},
{"data": {"name": "censors"}, "transform": [{"filter": "datum.panel === 'e'"}],
 "mark": {"type": "point", "shape": "M0,-1L0,1M-1,0L1,0", "filled": false, "size": 12, "strokeWidth": 0.8, "opacity": 1},
 "encoding": {"x": {"field": "t", "type": "quantitative"}, "y": {"field": "s", "type": "quantitative"}, "color": {"field": "group", "type": "nominal", "legend": null}}},
{"data": {"name": "labels"}, "transform": [{"filter": "datum.panel === 'e'"}],
 "mark": {"type": "text", "align": "left", "baseline": "middle", "fontSize": 11, "color": "#222"},
 "encoding": {"x": {"field": "t", "type": "quantitative"}, "y": {"field": "s", "type": "quantitative"}, "text": {"field": "text"}}}
]}]
},
{
"title": {"text": "(f)  Effect of diabetic treatment on OS", "orient": "bottom", "frame": "bounds", "anchor": "middle", "offset": 10, "fontSize": 11},
"vconcat": [{
"width": 272, "height": 199,
"view": {"stroke": null},
"title": {"text": "Survival Functions", "frame": "group", "anchor": "middle", "offset": -33, "dx": -13},
"layer": [
{"data": {"name": "faxis"},
 "mark": {"type": "rule", "color": "#8a8a8a", "strokeWidth": 1.5},
 "encoding": {"x": {"field": "t", "type": "quantitative"}, "y": {"field": "s", "type": "quantitative"}, "y2": {"field": "s2"}}},
{"data": {"name": "curves"}, "transform": [{"filter": "datum.panel === 'f'"}],
 "mark": {"type": "line", "interpolate": "step-after", "strokeWidth": 1.5},
 "encoding": {
  "x": {"field": "t", "type": "quantitative", "scale": {"domain": [-11.8, 211.4], "nice": false, "zero": false}, "axis": {"values": [0, 50, 100, 150, 200], "title": "survival time in months", "domain": true, "domainColor": "#8a8a8a", "domainWidth": 1.5, "ticks": false, "labelPadding": 4, "titlePadding": 9}},
  "y": {"field": "s", "type": "quantitative", "scale": {"domain": [-0.052, 1.284], "nice": false, "zero": false}, "axis": {"values": [0, 0.2, 0.4, 0.6, 0.8, 1], "tickCount": 10, "format": ".1f", "title": "Cum Survival", "titlePadding": 9, "titleY": 117, "ticks": false, "labelPadding": 6, "labelOverlap": false}},
  "color": {"field": "group", "type": "nominal", "scale": {"domain": ["Metformin", "Non diabetic", "Other treatment"], "range": ["#d81b4f", "#4a8fe0", "#3a9a3a"]}, "legend": null}}},
{"data": {"name": "censors"}, "transform": [{"filter": "datum.panel === 'f'"}],
 "mark": {"type": "point", "shape": "M0,-1L0,1M-1,0L1,0", "filled": false, "size": 36, "strokeWidth": 1.4, "opacity": 1},
 "encoding": {"x": {"field": "t", "type": "quantitative"}, "y": {"field": "s", "type": "quantitative"}, "color": {"field": "group", "type": "nominal", "legend": null}}},
{"data": {"name": "labels"}, "transform": [{"filter": "datum.panel === 'f'"}],
 "mark": {"type": "text", "align": "left", "baseline": "middle", "fontSize": 11, "color": "#222"},
 "encoding": {"x": {"field": "t", "type": "quantitative"}, "y": {"field": "s", "type": "quantitative"}, "text": {"field": "text"}}},
{"data": {"name": "smalllabels"},
 "mark": {"type": "text", "align": "left", "baseline": "middle", "fontSize": 9.5, "color": "#222"},
 "encoding": {"x": {"field": "t", "type": "quantitative"}, "y": {"field": "s", "type": "quantitative"}, "text": {"field": "text"}}}
]}]
}
],
"spacing": 20,
"resolve": {"scale": {"color": "independent", "x": "independent", "y": "independent"}}
}
]
}
